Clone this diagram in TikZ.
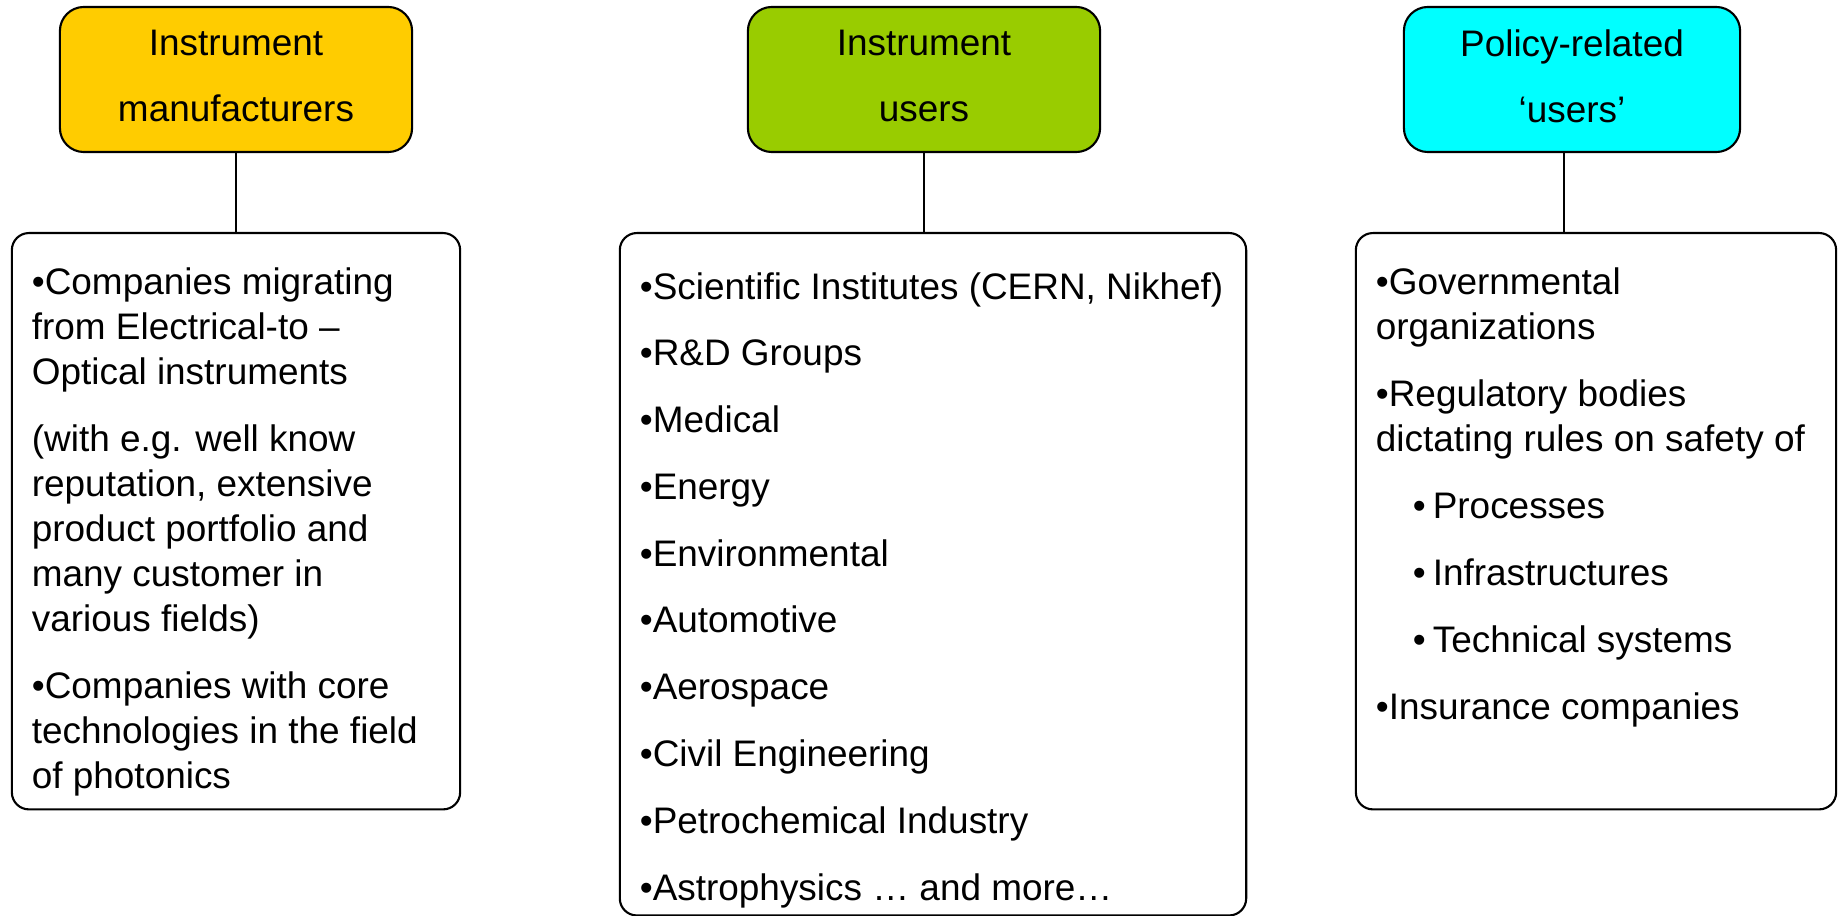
\documentclass[tikz,border=0pt]{standalone}
\usepackage{fontspec}
\setmainfont{Liberation Sans}
\usetikzlibrary{positioning}

\definecolor{mfrorange}{HTML}{FFCC00}
\definecolor{usergreen}{HTML}{99CC00}
\definecolor{policycyan}{HTML}{00FFFF}

\newcommand{\hdrfont}{\fontsize{10.5}{18.7}\selectfont}
\newcommand{\listfont}{\fontsize{10.5}{12.8}\selectfont\raggedright\setlength{\parskip}{0.22cm}}
\newcommand{\userfont}{\fontsize{10.5}{13.3}\selectfont\raggedright\setlength{\parskip}{0.2cm}}

\begin{document}
\begin{tikzpicture}[x=0.01cm,y=-0.01cm,
    groupbox/.style={draw,line width=0.6pt,rounded corners=0.24cm,minimum width=3.52cm,
        minimum height=1.45cm,align=center,font=\hdrfont,text depth=0.07cm},
    listbox/.style={draw,line width=0.6pt,rounded corners=0.17cm,anchor=north,
        inner xsep=0.2cm,inner ysep=0pt}]
    \useasboundingbox (0,0) rectangle (1839,916);
    % headers
    \node[groupbox,fill=mfrorange]  (mfr)    at (236,79.5)  {Instrument\\manufacturers};
    \node[groupbox,fill=usergreen]  (user)   at (924,79.5)  {Instrument\\users};
    \node[groupbox,fill=policycyan,minimum width=3.36cm] (policy) at (1572,79.5) {Policy-related\\‘users’};
    % lists
    \node[listbox] (mfrlist) at (236,232) {\parbox[t][5.76cm][t]{4.08cm}{\listfont
        \rule{0pt}{0.61cm}•Companies migrating\\from Electrical-to –\\Optical instruments\par
        (with e.g. well know\\reputation, extensive\\product portfolio and\\many customer in\\various fields)\par
        •Companies with core\\technologies in the field\\of photonics}};
    \node[listbox] (userlist) at (933,232) {\parbox[t][6.82cm][t]{5.86cm}{\userfont
        \rule{0pt}{0.66cm}\mbox{•Scientific Institutes (CERN, Nikhef)}\par
        •R\&D Groups\par
        •Medical\par
        •Energy\par
        •Environmental\par
        •Automotive\par
        •Aerospace\par
        •Civil Engineering\par
        •Petrochemical Industry\par
        •Astrophysics … and more…}};
    \node[listbox] (policylist) at (1596,232) {\parbox[t][5.76cm][t]{4.40cm}{\listfont
        \rule{0pt}{0.61cm}•Governmental\\organizations\par
        •Regulatory bodies\\dictating rules on safety of\par
        \hspace*{0.37cm}•\hspace{0.07cm}Processes\par
        \hspace*{0.37cm}•\hspace{0.07cm}Infrastructures\par
        \hspace*{0.37cm}•\hspace{0.07cm}Technical systems\par
        •Insurance companies}};
    % connectors
    \draw[line width=0.6pt] (mfr.south) -- (mfr.south |- mfrlist.north);
    \draw[line width=0.6pt] (user.south) -- (user.south |- userlist.north);
    \draw[line width=0.6pt] ([xshift=-0.08cm]policy.south) -- ([xshift=-0.08cm]policy.south |- policylist.north);
\end{tikzpicture}
\end{document}
